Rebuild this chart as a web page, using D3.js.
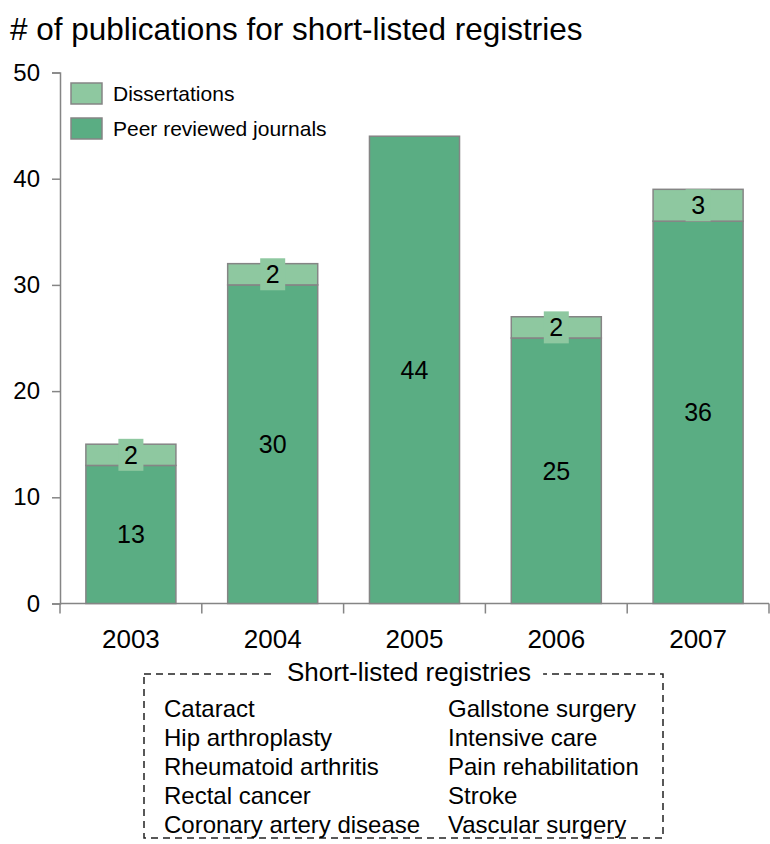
<!DOCTYPE html>
<html>
<head>
<meta charset="utf-8">
<script src="https://cdn.jsdelivr.net/npm/d3@7"></script>
<style>
  html, body { margin: 0; padding: 0; background: #fff; }
  svg { display: block; font-family: "Liberation Sans", Arial, sans-serif; }
</style>
</head>
<body>
<svg id="chart" width="770" height="844"></svg>
<script>
// Publication counts per year
const years = ["2003", "2004", "2005", "2006", "2007"];
const journals = [13, 30, 44, 25, 36];
const dissertations = [2, 2, 0, 2, 3];
const yTicks = [0, 10, 20, 30, 40, 50];
const seriesNames = ["Dissertations", "Peer reviewed journals"];
const registriesLeft = ["Cataract", "Hip arthroplasty", "Rheumatoid arthritis", "Rectal cancer", "Coronary artery disease"];
const registriesRight = ["Gallstone surgery", "Intensive care", "Pain rehabilitation", "Stroke", "Vascular surgery"];

const colJournal = "#5aad83";
const colDiss = "#8ec8a0";
const gray = "#858585";

const svg = d3.select("#chart");

const rows = years.map((y, i) => ({ year: y, journals: journals[i], dissertations: dissertations[i] }));
const stack = d3.stack().keys(["journals", "dissertations"])(rows);

const plotLeft = 60, plotRight = 769, plotTop = 72.5, plotBottom = 603.5;

const x = d3.scaleBand().domain(years).range([plotLeft, plotRight]).paddingInner(0.365).paddingOuter(0.1825);
const xTicks = d3.scaleBand().domain(years).range([plotLeft, plotRight]).padding(0);
const y = d3.scaleLinear().domain([0, 50]).range([plotBottom, plotTop]);

// Title
svg.append("text").attr("x", 10).attr("y", 40)
  .attr("font-size", 31.5).attr("fill", "#000")
  .text("# of publications for short-listed registries");

// Y axis
const yAxis = svg.append("g").attr("transform", `translate(${plotLeft},0)`)
  .call(d3.axisLeft(y).tickValues(yTicks).tickSize(8).tickPadding(12).tickFormat(d3.format("d")));
yAxis.select(".domain").attr("stroke", gray).attr("stroke-width", 1.5);
yAxis.selectAll(".tick line").attr("stroke", gray).attr("stroke-width", 1.5);
yAxis.selectAll(".tick text").attr("font-size", 24).attr("fill", "#000").attr("font-family", "Liberation Sans, Arial, sans-serif");

// X axis: baseline, boundary ticks, year labels
const xg = svg.append("g");
xg.append("line").attr("x1", plotLeft).attr("x2", plotRight).attr("y1", plotBottom).attr("y2", plotBottom)
  .attr("stroke", gray).attr("stroke-width", 1.5);
const bounds = years.map(d => xTicks(d)).concat([plotRight]);
xg.selectAll("line.tk").data(bounds).join("line").attr("class", "tk")
  .attr("x1", d => d).attr("x2", d => d).attr("y1", plotBottom).attr("y2", plotBottom + 10)
  .attr("stroke", gray).attr("stroke-width", 1.5);
xg.selectAll("text").data(years).join("text")
  .attr("x", d => x(d) + x.bandwidth() / 2).attr("y", 648)
  .attr("text-anchor", "middle").attr("font-size", 26).attr("fill", "#000")
  .text(d => d);

// Bars
const colors = { journals: colJournal, dissertations: colDiss };
const barLayer = svg.append("g");
stack.forEach(s => {
  barLayer.append("g").selectAll("rect").data(s.filter(d => d[1] > d[0])).join("rect")
    .attr("x", d => x(d.data.year))
    .attr("width", x.bandwidth())
    .attr("y", d => y(d[1]))
    .attr("height", d => y(d[0]) - y(d[1]))
    .attr("fill", colors[s.key])
    .attr("stroke", gray).attr("stroke-width", 1.5);
});

// Value labels
const labelLayer = svg.append("g");
stack.forEach(s => {
  const g = labelLayer.append("g");
  const data = s.filter(d => d[1] > d[0]);
  if (s.key === "dissertations") {
    g.selectAll("rect").data(data).join("rect")
      .attr("x", d => x(d.data.year) + x.bandwidth() / 2 - 12.5)
      .attr("y", d => (y(d[0]) + y(d[1])) / 2 - 16)
      .attr("width", 25).attr("height", 32)
      .attr("fill", colDiss);
  }
  g.selectAll("text").data(data).join("text")
    .attr("x", d => x(d.data.year) + x.bandwidth() / 2)
    .attr("y", d => (y(d[0]) + y(d[1])) / 2 + 9)
    .attr("text-anchor", "middle").attr("font-size", 25).attr("fill", "#000")
    .text(d => d[1] - d[0]);
});

// Legend
const legend = svg.append("g");
const legendColors = [colDiss, colJournal];
seriesNames.forEach((name, i) => {
  const ly = 83 + i * 35;
  legend.append("rect").attr("x", 71).attr("y", ly).attr("width", 31).attr("height", 21)
    .attr("fill", legendColors[i]).attr("stroke", gray).attr("stroke-width", 1.5);
  legend.append("text").attr("x", 113).attr("y", ly + 18)
    .attr("font-size", 21).attr("fill", "#000").text(name);
});

// Registry box
const box = svg.append("g");
box.append("rect").attr("x", 144).attr("y", 674).attr("width", 519).attr("height", 164)
  .attr("fill", "none").attr("stroke", "#222").attr("stroke-width", 1.5)
  .attr("stroke-dasharray", "7,5");
const boxTitle = box.append("text").attr("x", 409).attr("y", 681)
  .attr("text-anchor", "middle").attr("font-size", 26).attr("fill", "#000")
  .text("Short-listed registries");
const bb = boxTitle.node().getBBox();
box.insert("rect", "text").attr("x", bb.x - 12).attr("y", 668).attr("width", bb.width + 24).attr("height", 12)
  .attr("fill", "#fff");
box.selectAll("text.l").data(registriesLeft).join("text").attr("class", "l")
  .attr("x", 164).attr("y", (d, i) => 717 + i * 29)
  .attr("font-size", 24).attr("fill", "#000").text(d => d);
box.selectAll("text.r").data(registriesRight).join("text").attr("class", "r")
  .attr("x", 448).attr("y", (d, i) => 717 + i * 29)
  .attr("font-size", 24).attr("fill", "#000").text(d => d);
</script>
</body>
</html>
